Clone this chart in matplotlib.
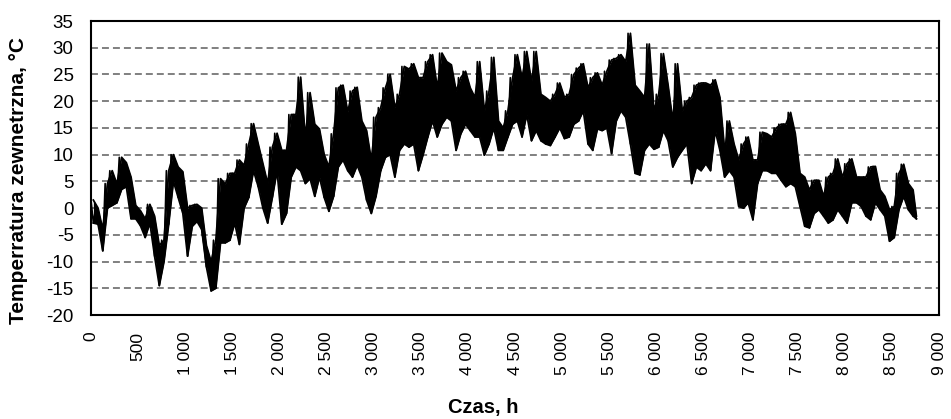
import numpy as np
import matplotlib.pyplot as plt

plt.rcParams['font.family'] = ['Liberation Sans', 'DejaVu Sans']
plt.rcParams['lines.scale_dashes'] = False

# hourly outdoor temperature, read off the chart as upper / lower envelope
# of the daily swing, one pair per 50 h block (block starts at 0 h)
block_hours = 50
temp_upper = [
    1.5, 0, -4, 4.6, 7, 4.5, 9.5, 8.5, 5.8, 0.5,
    -0.5, -2, 0.7, -1.5, -7, -6, 7, 10, 7.7, 6.8,
    0, 0.5, 0.7, 0, -7, -10, -6, 5.5, 4.5, 6.5,
    6.5, 9, 8, 12, 15.8, 12, 8.3, 4.6, 11.4, 14,
    10.8, 10.8, 17.5, 17.5, 24.5, 13.3, 21.6, 15.7, 14.8, 10,
    7.7, 13.9, 22.5, 23, 18, 21.9, 22.6, 16.3, 14.5, 9,
    17, 18.8, 22.5, 25, 18.8, 21.3, 26.5, 26, 27, 24.4,
    24.4, 27.4, 28.7, 22.5, 29, 27.4, 26.8, 21.9, 24.4, 25.6,
    22.5, 20.7, 27.4, 18.2, 21.9, 28.2, 16.3, 15, 18.2, 24.4,
    28.7, 24.4, 29.3, 23.7, 29.3, 21.3, 20.7, 20, 21.3, 23.4,
    20.7, 21.3, 25, 26.2, 27, 22.5, 24.4, 25.3, 23, 25.6,
    27.7, 28, 28.7, 27.4, 32.7, 23, 21.9, 20.7, 30.7, 18.2,
    21.3, 28.9, 23, 16.3, 27, 18.2, 20, 20.7, 23, 23.4,
    23.4, 23, 24, 20.7, 10.8, 16.3, 12, 9, 12, 13.3,
    9, 9, 14.2, 13.9, 13.3, 15, 15.7, 15.7, 17.9, 13.9,
    6.5, 5.8, 3.4, 5.2, 5.2, 2.2, 5.8, 6.5, 9.2, 5.8,
    8.3, 9.2, 5.8, 5.8, 5.8, 7.7, 7.8, 3.4, 2.2, -0.3,
    0.3, 6.5, 8.2, 4.6, 3.4, -1.5,
]
temp_lower = [
    -2.8, -3, -8, 0, 0.5, 1, 3.5, 4, -2, -2,
    -3.3, -5.5, -2.8, -9, -14.5, -10, -3, 5, 2, -1,
    -9, -3.4, -2.5, -4, -11, -15.5, -15, -6.5, -6.5, -6,
    -2.8, -6.8, 0, 2, 7, 4, 0, -2.8, 2, 7,
    -3, -1, 5.8, 7.7, 7, 4.6, 5.5, 2.2, 5.8, 2,
    -0.6, 2.2, 7.7, 9, 7, 5.8, 8, 5.8, 1.5, -1,
    2.2, 7, 9.5, 10, 5.8, 10.8, 12, 11.4, 12, 7,
    10, 13.3, 16.3, 13.3, 15.7, 17, 16.3, 10.8, 13.9, 15.7,
    14.5, 13.3, 13.3, 9.9, 12, 15, 10.8, 10.8, 13.3, 15.7,
    16.3, 13.3, 17.5, 12.6, 14.5, 12.6, 12, 11.7, 13.3, 15,
    13, 13.3, 15.7, 16.3, 18.2, 12, 10.8, 14.8, 14.5, 15,
    10.2, 16.3, 18.2, 17, 12, 6.5, 6.2, 10.8, 12, 11,
    11.4, 14.5, 12.6, 7.7, 9.5, 10.8, 12, 4.6, 7.7, 7,
    8.3, 7, 14.5, 10.8, 5.8, 7, 5.8, 0.3, 0, 1,
    -2.2, 4.6, 7, 7, 6.5, 6.5, 5.2, 4, 4.6, 4,
    0.3, -3.4, -3.7, -1, -0.3, -1.5, -2.8, -2.2, -0.3, -1.5,
    -2.8, 1, 1, 0.3, -1.5, -2.2, 1, -0.3, -1.5, -6.2,
    -5.5, -0.3, 2.2, -0.3, -1.5, -2,
]
last_hour = 8760

x_ticks = list(range(0, 9001, 500))
x_tick_labels = [f'{v:,}'.replace(',', ' ') for v in x_ticks]
y_ticks = list(range(-20, 36, 5))

upper = np.array(temp_upper)
lower = np.array(temp_lower)
start = np.arange(len(upper)) * block_hours
mid = np.minimum(start + block_hours / 2, last_hour)

# zigzag through the envelope: top of each block, then its bottom
hours = np.minimum(np.column_stack([start, start + block_hours / 2]).ravel(), last_hour)
temps = np.column_stack([upper, lower]).ravel()

fig = plt.figure(figsize=(9.51, 4.19), dpi=100)
ax = fig.add_axes([91 / 951, 1 - 315 / 419, 848 / 951, 294 / 419])

for y in y_ticks[1:-1]:
    ax.axhline(y, color='#808080', lw=1.4, dashes=(5.0, 2.9), zorder=1)

# dense daily swing drawn as a filled band between the envelopes
ax.fill_between(mid, lower, upper, color='black', lw=0, zorder=2)
ax.plot(mid, upper, color='black', lw=1.3, zorder=3)
ax.plot(mid, lower, color='black', lw=1.3, zorder=3)
ax.plot(hours, temps, color='black', lw=1.2, zorder=3)

ax.set_xlim(0, 9000)
ax.set_ylim(-20, 35)
ax.set_xticks(x_ticks)
ax.set_xticklabels(x_tick_labels, rotation=90, fontsize=12.5)
ax.set_yticks(y_ticks)
ax.set_yticklabels([str(v) for v in y_ticks], fontsize=13.5)
ax.tick_params(axis='both', length=0)
ax.tick_params(axis='x', pad=12)
ax.tick_params(axis='y', pad=12.5)
for spine in ax.spines.values():
    spine.set_linewidth(1.5)
    spine.set_color('black')

fig.text(19 / 951, 1 - 180 / 419, 'Temperratura zewnetrzna, °C', rotation=90,
         ha='center', va='center', fontsize=15, fontweight='bold')
fig.text(483 / 951, 1 - 407 / 419, 'Czas, h', ha='center', va='center',
         fontsize=14.5, fontweight='bold')

fig.savefig('out.png', dpi=100)
